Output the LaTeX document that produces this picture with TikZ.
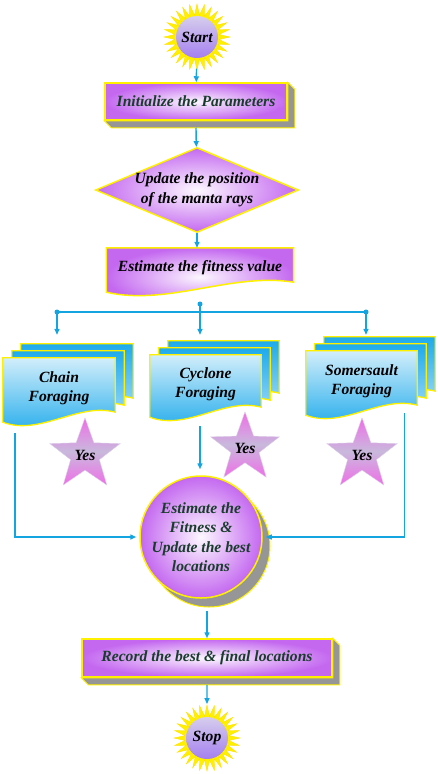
\documentclass[tikz,border=0pt]{standalone}
\usepackage{fontspec}
\setmainfont{Liberation Serif}
\usetikzlibrary{arrows.meta, shapes.geometric, shapes.symbols, calc, backgrounds}
\definecolor{LinkBlue}{RGB}{20,165,225}
\definecolor{BoxPurple}{RGB}{196,104,240}
\definecolor{BoxYellow}{RGB}{255,240,0}
\definecolor{ShadowGray}{RGB}{150,150,150}
\definecolor{TextGreen}{RGB}{25,60,45}
\definecolor{DocBlue}{RGB}{30,170,235}
\definecolor{StarPink}{RGB}{240,110,232}
\definecolor{StarLav}{RGB}{200,185,220}
\definecolor{BurstTop}{RGB}{228,228,236}
\definecolor{BurstBottom}{RGB}{150,105,240}

\tikzset{
  bolditalic/.style={font=\bfseries\itshape\fontsize{15.6}{19.5}\selectfont, align=center},
  flow/.style={draw=LinkBlue, line width=1.4pt, -{Triangle[length=6pt,width=5pt]}},
  link/.style={draw=LinkBlue, line width=1.4pt},
  burst/.style={starburst, random starburst=0, starburst points=28,
    starburst point height=11pt, minimum size=66pt, inner sep=0pt,
    fill=BoxYellow, draw=BoxYellow!85!orange, line width=0.4pt, bolditalic,
    path picture={\shade[top color=BurstTop, bottom color=BurstBottom]
      (path picture bounding box.center) circle (21pt);}},
  prism/.style={rectangle, draw=BoxYellow, line width=1.5pt,
    inner color=BoxPurple!5, outer color=BoxPurple, bolditalic, text=TextGreen},
  decision/.style={diamond, aspect=2.39, minimum width=203pt, minimum height=85pt,
    inner sep=0pt, inner xsep=-5pt, draw=BoxYellow, line width=1.5pt,
    inner color=BoxPurple!5, outer color=BoxPurple, bolditalic},
  sheet/.style={rectangle, inner sep=2pt, bolditalic},
  frontsheet/.style={top color=DocBlue!20, bottom color=DocBlue, draw=BoxYellow, line width=1.3pt},
  backsheet/.style={top color=DocBlue, bottom color=DocBlue!35, draw=BoxYellow, line width=1.3pt},
  yesstar/.style={star, star points=5, star point ratio=2.45, inner sep=0pt,
    top color=StarPink, bottom color=StarPink, middle color=StarLav,
    draw=StarLav!70!white, line width=0.4pt, bolditalic},
  orb/.style={circle, minimum size=122pt, inner sep=0pt, draw=BoxYellow, line width=1.5pt,
    inner color=BoxPurple!5, outer color=BoxPurple, bolditalic, text=TextGreen}
}

% grey side faces of a raised box
\newcommand{\extrude}[1]{%
  \fill[ShadowGray, draw=BoxYellow, line width=1pt] (#1.north east) -- ++(7,7)
    -- ($(#1.south east)+(7,7)$) -- ($(#1.south west)+(7,7)$)
    -- (#1.south west) -- (#1.south east) -- cycle;}
% sheet with a wavy lower edge: node, offset, style
\newcommand{\wavedoc}[3]{%
  \path[#3] ($(#1.north west)+(#2)$) -- ($(#1.north east)+(#2)$)
    -- ($(#1.south east)+(#2)+(0,-6)$)
    .. controls ($(#1.south west)!0.67!(#1.south east)+(#2)+(0,-16)$)
    and ($(#1.south west)!0.33!(#1.south east)+(#2)+(0,18)$)
    .. ($(#1.south west)+(#2)+(0,4)$) -- cycle;}

\begin{document}
\begin{tikzpicture}[x=1pt, y=-1pt]
  \useasboundingbox (0,0) rectangle (438,774);

  \node[burst] (start) at (197,37) {Start};
  \node[prism, minimum width=182pt, minimum height=37pt] (init) at (196,101.5) {Initialize the Parameters};
  \node[decision] (update) at (197,190) {Update the position\\of the manta rays};
  \node[sheet, minimum width=187pt, minimum height=40pt] (fitness) at (200,268) {Estimate the fitness value};

  % three foraging strategies
  \node[sheet, minimum width=112pt, minimum height=60pt] (chain) at (59,388) {Chain\\Foraging};
  \node[sheet, minimum width=111pt, minimum height=58pt] (cyclone) at (205.5,384) {Cyclone\\Foraging};
  \node[sheet, minimum width=111pt, minimum height=60pt] (somersault) at (361.5,381) {Somersault\\Foraging};

  \node[yesstar, minimum size=74pt] (yes1) at (85,455) {Yes};
  \node[yesstar, minimum size=66pt] (yes2) at (245,448) {Yes};
  \node[yesstar, minimum size=74pt] (yes3) at (362,455) {Yes};

  \node[orb] (merge) at (201,537) {Estimate the\\Fitness \&\\Update the best\\locations};
  \node[prism, minimum width=250pt, minimum height=38pt] (record) at (207,658) {Record the best \& final locations};
  \node[burst] (stop) at (207,738) {Stop};

  \begin{scope}[on background layer]
    \extrude{init}
    \extrude{record}
    \fill[ShadowGray, draw=BoxYellow, line width=1pt] ($(merge)+(8,9)$) circle (61pt);
    \wavedoc{fitness}{0,0}{inner color=BoxPurple!5, outer color=BoxPurple, draw=BoxYellow, line width=1.5pt}
    \foreach \n in {chain, cyclone, somersault} {
      \wavedoc{\n}{18,-14}{backsheet}
      \wavedoc{\n}{9,-7}{backsheet}
      \wavedoc{\n}{0,0}{frontsheet}
    }
  \end{scope}

  \draw[flow] (start) -- (init);
  \draw[flow] ([yshift=-7pt]init.south) -- (update);
  \draw[flow] (update) -- (update |- fitness.north);

  \coordinate (split) at (200,304);
  \coordinate (lsplit) at (57,312);
  \coordinate (rsplit) at (366,312);
  \draw[link] (lsplit) -- (rsplit);
  \draw[flow, shorten >=23pt] (lsplit) -- (lsplit |- chain.north);
  \draw[flow, shorten >=20pt] (split) -- (split |- cyclone.north);
  \draw[flow, shorten >=16pt] (rsplit) -- (rsplit |- somersault.north);
  \foreach \p in {split, lsplit, rsplit} \fill[LinkBlue] (\p) circle (2.5pt);

  \draw[flow, shorten >=3pt] ($(chain.south west)+(12,15)$) |- (merge.west);
  \draw[flow, shorten >=6pt] ($(cyclone.south)+(-5.5,13)$) -- (split |- merge.north);
  \draw[flow, shorten >=3pt] ($(somersault.south east)+(-13,2)$) |- (merge.east);
  \draw[flow, shorten <=12pt] (record.north |- merge.south) -- (record.north);
  \draw[flow] ([yshift=-7pt]record.south) -- (stop);
\end{tikzpicture}
\end{document}
